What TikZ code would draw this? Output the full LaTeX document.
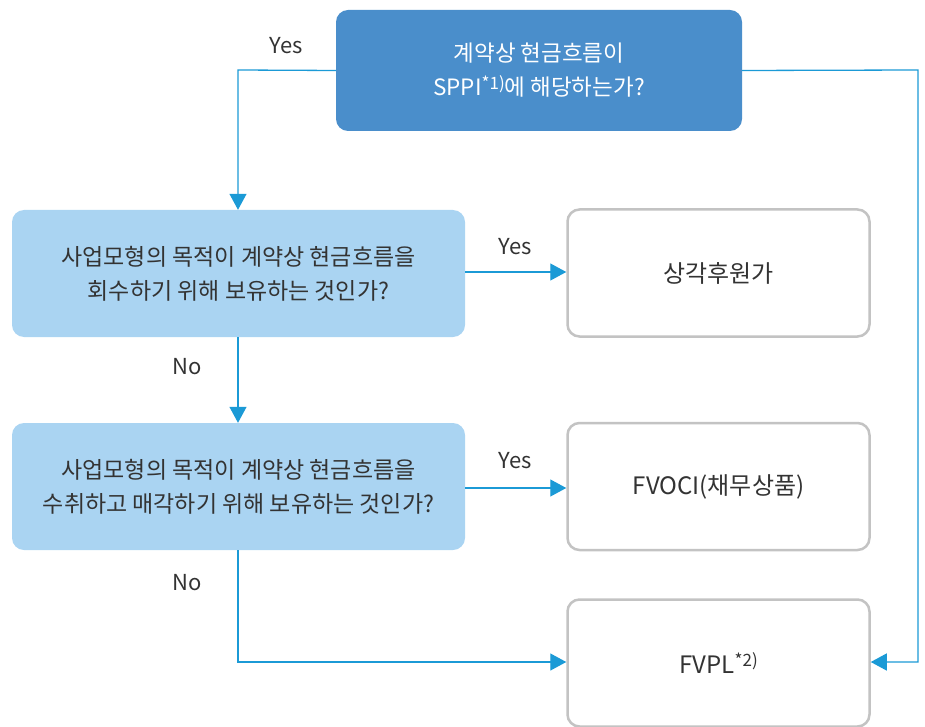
\documentclass[tikz,border=0pt]{standalone}
\usepackage{fontspec}
\setmainfont{Noto Sans CJK KR}
\usetikzlibrary{arrows.meta}
\definecolor{darkbox}{HTML}{4A8ECB}
\definecolor{lightbox}{HTML}{AAD4F2}
\definecolor{linecol}{HTML}{1B9AD6}
\definecolor{edgegray}{HTML}{C3C3C3}
\definecolor{txt}{HTML}{333333}
\newcommand{\supnote}[1]{\raisebox{0.5ex}{\fontsize{17}{17}\selectfont #1}}
\tikzset{
  qbox/.style={rounded corners=12pt, inner sep=0pt, align=center, font=\fontsize{23}{34}\selectfont},
  topbox/.style={qbox, fill=darkbox, text=white, font=\fontsize{22.5}{34}\selectfont},
  lbox/.style={qbox, fill=lightbox, text=txt},
  rbox/.style={qbox, fill=white, draw=edgegray, line width=2.5pt, text=txt, font=\fontsize{24}{34}\selectfont},
  conn/.style={draw=linecol, line width=1.3pt, -{Triangle[length=16pt,width=17pt]}, color=linecol},
  lab/.style={font=\fontsize{22}{26}\selectfont, text=txt}
}
\begin{document}
\begin{tikzpicture}[x=1pt,y=-1pt]
\useasboundingbox (0,0) rectangle (925,727);
\node[topbox, minimum width=406pt, minimum height=121pt] (top) at (539,70.5) {계약상 현금흐름이\\SPPI\supnote{*1)}에 해당하는가?};
\node[lbox, minimum width=453pt, minimum height=127pt] (q1) at (238.5,273.5) {사업모형의 목적이 계약상 현금흐름을\\회수하기 위해 보유하는 것인가?};
\node[lbox, minimum width=453pt, minimum height=127pt] (q2) at (238.5,486.5) {사업모형의 목적이 계약상 현금흐름을\\수취하고 매각하기 위해 보유하는 것인가?};
\node[rbox, minimum width=302pt, minimum height=127pt] (r1) at (718.5,273) {상각후원가};
\node[rbox, minimum width=302pt, minimum height=127pt] (r2) at (718.5,486.5) {FVOCI(채무상품)};
\node[rbox, minimum width=302pt, minimum height=127pt] (r3) at (718.5,663) {FVPL\supnote{*2)}};
\coordinate (tl) at (238,70);
\coordinate (tr) at (918,70);
\coordinate (br) at (918,662);
\coordinate (bl) at (238,662);
\draw[conn] (top.west) -- (tl) -- (q1.north -| tl);
\draw[conn] (top.east) -- (tr) -- (br) -- (br -| r3.east);
\draw[conn] (q1.east |- 0,272) -- (r1.west |- 0,272);
\draw[conn] (q1.south -| tl) -- (q2.north -| tl);
\draw[conn] (q2.east |- 0,488) -- (r2.west |- 0,488);
\draw[conn] (q2.south -| tl) -- (bl) -- (bl -| r3.west);
\node[lab] (y1) at (286,46) {Yes};
\node[lab] (y2) at (515,247) {Yes};
\node[lab] (n1) at (187,367) {No};
\node[lab] (y3) at (515,461) {Yes};
\node[lab] (n2) at (187,583) {No};
\end{tikzpicture}
\end{document}
